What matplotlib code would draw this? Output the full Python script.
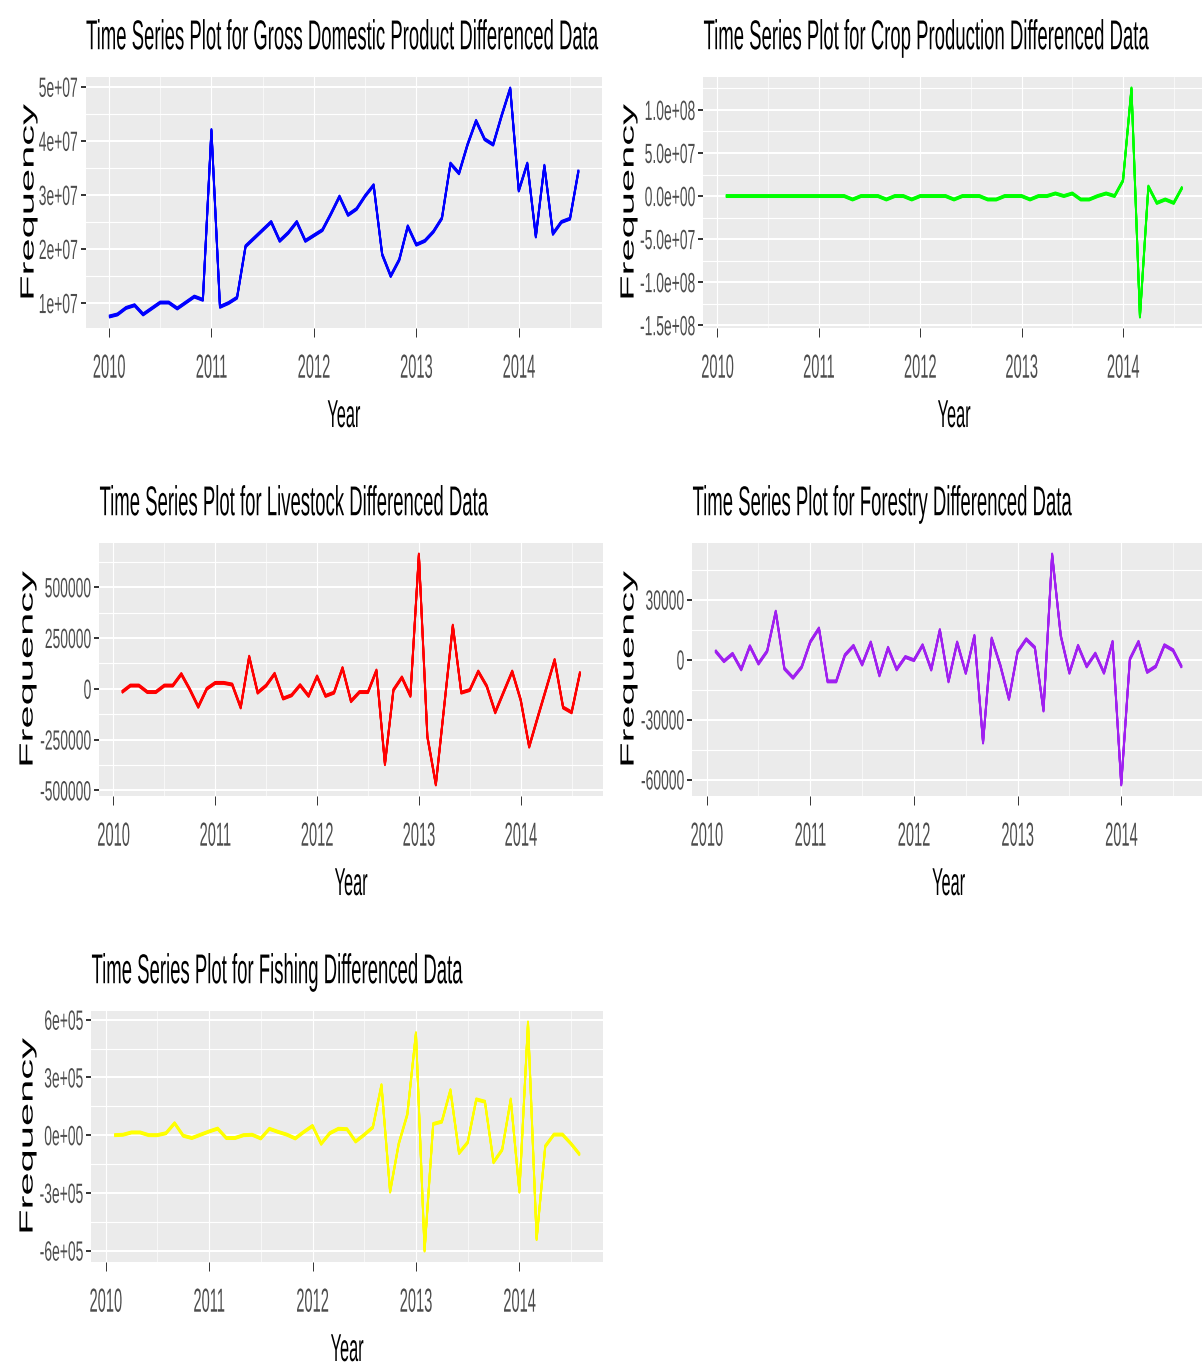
import numpy as np
import matplotlib
matplotlib.use("Agg")
import matplotlib.pyplot as plt
from matplotlib.patheffects import AbstractPathEffect, SimpleLineShadow, Normal
from matplotlib.transforms import Affine2D, Bbox

# ---------------------------------------------------------------- data
# GDP differenced series: monthly, Jan 2010 .. Aug 2014
gdp_time = 2010 + np.arange(56) / 12
gdp = [7.5e6, 7.9e6, 9.1e6, 9.6e6, 7.9e6, 9.0e6, 1.01e7, 1.01e7, 9.0e6, 1.01e7, 1.12e7, 1.06e7,
       4.2e7, 9.3e6, 1.0e7, 1.1e7, 2.05e7, 2.2e7, 2.35e7, 2.5e7, 2.15e7, 2.3e7, 2.5e7, 2.15e7,
       2.25e7, 2.35e7, 2.65e7, 2.97e7, 2.63e7, 2.74e7, 2.98e7, 3.18e7, 1.9e7, 1.5e7, 1.8e7, 2.42e7,
       2.08e7, 2.15e7, 2.32e7, 2.57e7, 3.58e7, 3.4e7, 3.93e7, 4.37e7, 4.03e7, 3.93e7, 4.47e7, 4.97e7,
       3.08e7, 3.58e7, 2.23e7, 3.54e7, 2.28e7, 2.5e7, 2.56e7, 3.45e7]

# sector series: monthly, Feb 2010 .. Aug 2014
sector_time = 2010 + np.arange(1, 56) / 12
crop = [0, 0, 0, 0, 0, 0, 0, 0, 0, 0, 0,
        0, 0, 0, 0, -4e6, 0, 0, 0, -4e6, 0, 0, -4e6,
        0, 0, 0, 0, -4e6, 0, 0, 0, -4e6, -4e6, 0, 0,
        0, -4e6, 0, 0, 3e6, 0, 3e6, -4e6, -4e6, 0, 3e6, 0,
        1.8e7, 1.25e8, -1.4e8, 1.1e7, -8e6, -4e6, -8e6, 1.0e7]
livestock = [-16000, 16000, 16000, -16000, -16000, 16000, 16000, 72600, -3000, -88700, 0,
             29000, 29000, 21000, -92000, 158000, -19000, 16000, 74000, -48000, -32000, 18000, -35000,
             61000, -35000, -19000, 102000, -61000, -16000, -16000, 90000, -371000, -6000, 56000, -35000,
             661000, -235000, -471000, -80000, 311000, -19000, -6000, 85000, 13000, -116000, -15000, 85000,
             -55000, -285000, -141000, 0, 142000, -92000, -116000, 81000]
forestry = [4400, -800, 2900, -4900, 6700, -2000, 4200, 24000, -4500, -9100, -3700,
            8900, 15600, -10900, -10900, 2200, 6900, -2500, 8600, -7900, 5900, -4900, 1300,
            -300, 7200, -5000, 14800, -10900, 8600, -6700, 11900, -41500, 10600, -2900, -19700,
            3900, 10200, 6000, -25500, 52600, 11900, -6600, 6900, -3400, 3000, -6600, 8900,
            -62500, 200, 8900, -6200, -3400, 7200, 4700, -3700]
fishing = [0, 2000, 14000, 14000, 0, 0, 10000, 62000, -3000, -15000, 2000,
           19000, 34000, -15000, -15000, 0, 2000, -17000, 33000, 17000, 3000, -17000, 17000,
           48000, -45000, 10000, 33000, 31000, -33000, 2000, 41000, 260000, -294000, -45000, 108000,
           530000, -600000, 58000, 70000, 234000, -93000, -38000, 186000, 174000, -141000, -76000, 186000,
           -294000, 586000, -540000, -58000, 3000, 3000, -45000, -101000]

titles = ["Time Series Plot for Gross Domestic Product Differenced Data",
          "Time Series Plot for Crop Production Differenced Data",
          "Time Series Plot for Livestock Differenced Data",
          "Time Series Plot for Forestry Differenced Data",
          "Time Series Plot for Fishing Differenced Data"]
colors = ["#0000FF", "#00FF00", "#FF0000", "#A020F0", "#FFFF00"]

year_ticks = [2010, 2011, 2012, 2013, 2014]
year_labels = ["2010", "2011", "2012", "2013", "2014"]

gdp_ticks = [1e7, 2e7, 3e7, 4e7, 5e7]
gdp_labels = ["1e+07", "2e+07", "3e+07", "4e+07", "5e+07"]
crop_ticks = [-1.5e8, -1.0e8, -5e7, 0, 5e7, 1.0e8]
crop_labels = ["-1.5e+08", "-1.0e+08", "-5.0e+07", "0.0e+00", "5.0e+07", "1.0e+08"]
livestock_ticks = [-500000, -250000, 0, 250000, 500000]
livestock_labels = ["-500000", "-250000", "0", "250000", "500000"]
forestry_ticks = [-60000, -30000, 0, 30000]
forestry_labels = ["-60000", "-30000", "0", "30000"]
fishing_ticks = [-6e5, -3e5, 0, 3e5, 6e5]
fishing_labels = ["-6e+05", "-3e+05", "0e+00", "3e+05", "6e+05"]

# ---------------------------------------------------------------- style
W, H, DPI = 1202, 1364, 100
plt.rcParams["font.family"] = ["Liberation Sans", "DejaVu Sans"]


class Condensed(AbstractPathEffect):
    """Draw glyphs horizontally compressed (display x) about an anchor of their ink box."""

    def __init__(self, sx=0.45, anchor=0.5):
        super().__init__()
        self.sx = sx
        self.anchor = anchor

    def draw_path(self, renderer, gc, tpath, affine, rgbFace=None):
        ext = tpath.get_extents(affine)
        x0 = ext.x0 + self.anchor * ext.width
        squeeze = Affine2D().translate(-x0, 0).scale(self.sx, 1).translate(x0, 0)
        renderer.draw_path(gc, tpath, affine + squeeze, rgbFace)


def condense(text, sx, anchor):
    """Compress a text horizontally and report the compressed extent."""
    text.set_path_effects([Condensed(sx, anchor)])
    full_extent = text.get_window_extent

    def extent(renderer=None, dpi=None):
        bb = full_extent(renderer, dpi)
        ref = bb.x0 + anchor * bb.width
        return Bbox.from_extents(ref + (bb.x0 - ref) * sx, bb.y0,
                                 ref + (bb.x1 - ref) * sx, bb.y1)

    text.get_window_extent = extent
    return text


def line_effects(color):
    # flat pen: extra strokes shifted vertically make shallow segments heavier
    fx = [SimpleLineShadow(offset=(0, d), shadow_color=color, alpha=1.0, rho=1.0)
          for d in (-0.75, -0.4, 0.4, 0.75)]
    return fx + [Normal()]


def expand(lo, hi, f=0.05):
    pad = (hi - lo) * f
    return lo - pad, hi + pad


def px_rect(x0, x1, y0, y1):
    return [x0 / W, 1 - y1 / H, (x1 - x0) / W, (y1 - y0) / H]


fig = plt.figure(figsize=(W / DPI, H / DPI), dpi=DPI, facecolor="white")


def panel(box, ylab_x, t, v, color, title, yticks, ylabels):
    x0, x1, y0, y1 = box
    ax = fig.add_axes(px_rect(x0, x1, y0, y1))
    ax.set_facecolor("#EBEBEB")
    for s in ax.spines.values():
        s.set_visible(False)

    ax.plot(t, v, color=color, lw=1.35, solid_joinstyle="round",
            solid_capstyle="butt", path_effects=line_effects(color), zorder=3)

    # grid: majors at breaks, minors half-way between
    ax.set_xticks(year_ticks, year_labels)
    ax.set_xticks([y + 0.5 for y in [2009] + year_ticks], minor=True)
    step = yticks[1] - yticks[0]
    ax.set_yticks(yticks, ylabels)
    ax.set_yticks([yticks[0] - step / 2] + [y + step / 2 for y in yticks], minor=True)

    # data range plus 5% on each side (limits set after the ticks)
    ax.set_xlim(*expand(min(t), max(t)))
    ax.set_ylim(*expand(min(v), max(v)))

    ax.set_axisbelow(True)
    ax.grid(which="major", axis="x", color="white", lw=0.85)
    ax.grid(which="minor", axis="x", color="white", lw=0.45)
    ax.grid(which="major", axis="y", color="white", lw=1.45)
    ax.grid(which="minor", axis="y", color="white", lw=0.85)

    ax.tick_params(which="minor", length=0)
    ax.tick_params(axis="x", which="major", length=6.5, width=0.7, color="#333333",
                   labelsize=24, labelcolor="#4D4D4D", pad=12)
    ax.tick_params(axis="y", which="major", length=3.6, width=1.4, color="#333333",
                   labelsize=20, labelcolor="#4D4D4D", pad=1.5)
    for lab in ax.get_xticklabels():
        condense(lab, 0.44, 0.5)
    for lab in ax.get_yticklabels():
        condense(lab, 0.5, 1.0)

    condense(ax.set_title(title, loc="left", pad=20, fontsize=30, color="black"), 0.445, 0.0)

    condense(fig.text((x0 + x1) / 2 / W, 1 - (y1 + 99) / H, "Year", ha="center",
                      va="baseline", fontsize=28, color="black"), 0.42, 0.5)
    condense(fig.text(ylab_x / W, 1 - (y0 + y1) / 2 / H, "Frequency", rotation=90,
                      ha="center", va="center", fontsize=30, color="black"), 0.46, 0.5)
    return ax


panel((85.5, 602, 77, 328), 28, gdp_time, gdp, colors[0], titles[0], gdp_ticks, gdp_labels)
panel((703, 1205, 77, 328), 628, sector_time, crop, colors[1], titles[1], crop_ticks, crop_labels)
panel((99, 603, 543, 796), 27, sector_time, livestock, colors[2], titles[2],
      livestock_ticks, livestock_labels)
panel((692, 1205, 543, 796), 628, sector_time, forestry, colors[3], titles[3],
      forestry_ticks, forestry_labels)
panel((91, 603, 1011, 1262), 27, sector_time, fishing, colors[4], titles[4],
      fishing_ticks, fishing_labels)

fig.savefig("out.png", dpi=DPI, facecolor="white")
